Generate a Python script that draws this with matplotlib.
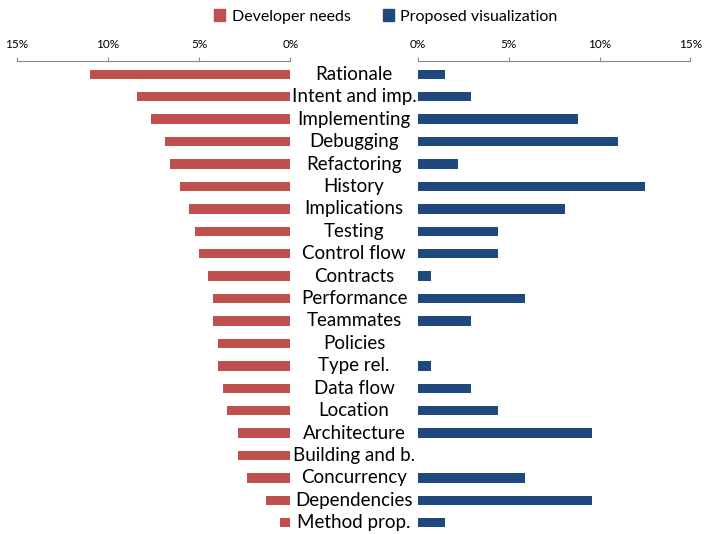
import matplotlib.pyplot as plt
from matplotlib.patches import Patch

categories = ['Rationale', 'Intent and imp.', 'Implementing', 'Debugging', 'Refactoring',
              'History', 'Implications', 'Testing', 'Control flow', 'Contracts',
              'Performance', 'Teammates', 'Policies', 'Type rel.', 'Data flow',
              'Location', 'Architecture', 'Building and b.', 'Concurrency',
              'Dependencies', 'Method prop.']
developer_needs = [11.0, 8.4, 7.65, 6.85, 6.6, 6.05, 5.55, 5.25, 5.0, 4.5,
                   4.25, 4.25, 3.95, 3.95, 3.7, 3.45, 2.9, 2.9, 2.4, 1.35, 0.55]
proposed_vis = [1.47, 2.94, 8.82, 11.03, 2.21, 12.5, 8.09, 4.41, 4.41, 0.74,
                5.88, 2.94, 0.0, 0.74, 2.94, 4.41, 9.56, 0.0, 5.88, 9.56, 1.47]
ticks = [0, 5, 10, 15]
tick_labels = ['0%', '5%', '10%', '15%']

red = '#C0504D'
blue = '#1F497D'

plt.rcParams['font.family'] = ['Lato', 'DejaVu Sans']

fig = plt.figure(figsize=(7.04, 5.34), dpi=100)
ax_l = fig.add_axes([0.0236, 0.0, 0.389, 0.886])
ax_r = fig.add_axes([0.5938, 0.0, 0.387, 0.886])

ypos = list(range(len(categories)))
ax_l.barh(ypos, developer_needs, height=0.42, color=red)
ax_r.barh(ypos, proposed_vis, height=0.42, color=blue)

ax_l.set_xlim(15, 0)
for ax in (ax_l, ax_r):
    ax.set_ylim(20.5, -0.6)
    ax.set_xticks(ticks)
    ax.set_xticklabels(tick_labels)
    ax.xaxis.tick_top()
    ax.tick_params(axis='x', direction='out', length=3, color='#888888',
                   labelsize=8.5, pad=4.5)
    ax.set_yticks([])
    for s in ['bottom', 'left', 'right']:
        ax.spines[s].set_visible(False)
    ax.spines['top'].set_color('#888888')
ax_r.set_xlim(0, 15)

# category labels between the two halves
for i, c in enumerate(categories):
    y = ax_l.transData.transform((0, i))[1]
    fig.text(0.503, y / fig.dpi / 5.34, c, ha='center', va='center', fontsize=13.5)

handles = [Patch(color=red, label='Developer needs'),
           Patch(color=blue, label='Proposed visualization')]
fig.legend(handles=handles, loc='center', bbox_to_anchor=(0.548, 0.969), ncol=2,
           frameon=False, fontsize=11.5, handlelength=0.7, handleheight=0.7,
           handletextpad=0.4, columnspacing=2.0)

fig.savefig('out.png', dpi=100)
